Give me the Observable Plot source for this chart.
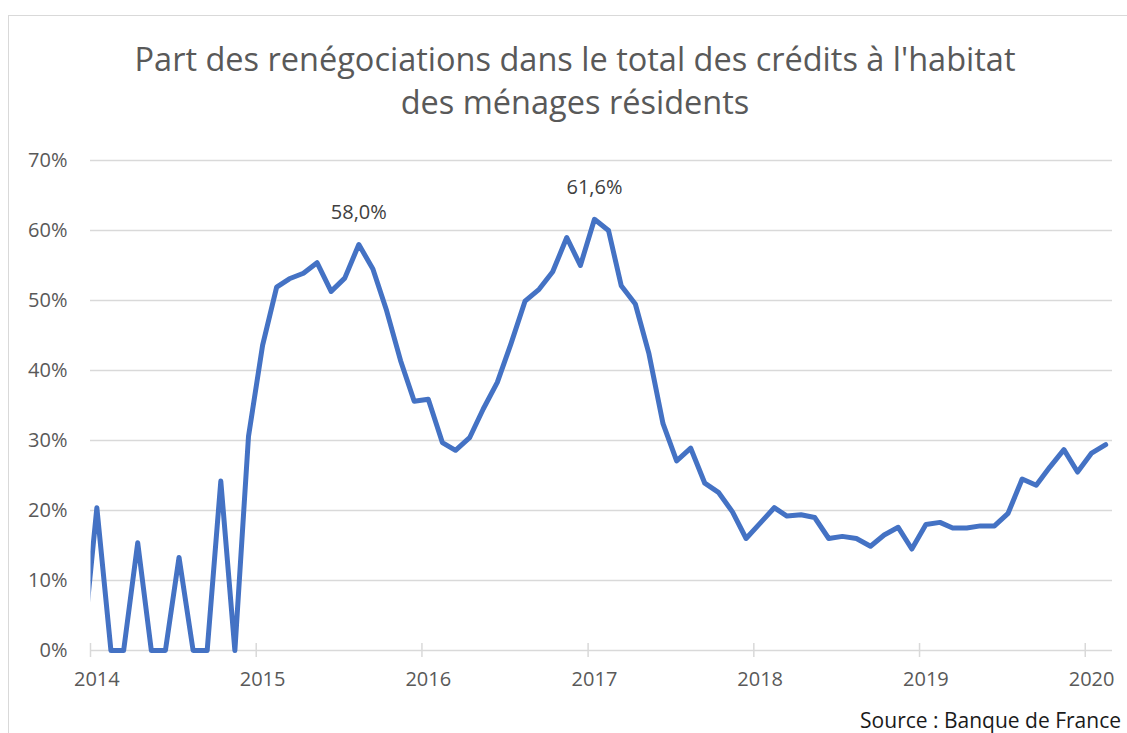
<!DOCTYPE html>
<html>
<head>
<meta charset="utf-8">
<script src="https://cdn.jsdelivr.net/npm/d3@7"></script>
<script src="https://cdn.jsdelivr.net/npm/@observablehq/plot@0.6"></script>
<style>
  html, body { margin: 0; padding: 0; background: #fff; }
  #wrap { position: relative; width: 1127px; height: 733px; overflow: hidden; font-family: "Open Sans", Lato, sans-serif; }
  .frame { position: absolute; left: 8px; top: 15px; width: 1300px; height: 900px; border: 1.5px solid #d9d9d9; box-sizing: border-box; }
  #title { position: absolute; left: 0; top: 37px; width: 1150px; text-align: center; font-size: 32.5px; line-height: 43px; color: #595959; }
  #source { position: absolute; right: 6px; top: 707px; font-size: 21px; line-height: 26px; color: #1a1a1a; }
  #chart { position: absolute; left: 0; top: 0; }
</style>
</head>
<body>
<div id="wrap">
  <div class="frame"></div>
  <div id="chart"></div>
  <div id="title">Part des renégociations dans le total des crédits à l'habitat<br>des ménages résidents</div>
  <div id="source">Source : Banque de France</div>
</div>
<script>
// Monthly share (%) of renegotiations
const values2013 = [0]; // December 2013 only
const values2014 = [20.4, 0, 0, 15.4, 0, 0, 13.3, 0, 0, 24.2, 0, 30.6];
const values2015 = [43.6, 51.9, 53.1, 53.9, 55.4, 51.3, 53.2, 58.0, 54.5, 48.6, 41.4, 35.6];
const values2016 = [35.9, 29.7, 28.6, 30.4, 34.5, 38.3, 43.8, 49.9, 51.6, 54.1, 59.0, 55.0];
const values2017 = [61.6, 60.0, 52.1, 49.5, 42.4, 32.4, 27.1, 28.9, 23.9, 22.6, 19.8, 16.0];
const values2018 = [18.2, 20.4, 19.2, 19.4, 19.0, 16.0, 16.3, 16.0, 14.9, 16.5, 17.6, 14.5];
const values2019 = [18.0, 18.3, 17.5, 17.5, 17.8, 17.8, 19.6, 24.5, 23.6, 26.2, 28.7, 25.5];
const values2020 = [28.2, 29.4]; // January, February 2020

const yearLabels = [2014, 2015, 2016, 2017, 2018, 2019, 2020];
const yTicks = [0, 10, 20, 30, 40, 50, 60, 70];
const annotatedMonths = ["2015-08", "2017-01"];

// Build table: each series starts at a given month (0-based)
const seriesByYear = [
  [2013, 11, values2013], [2014, 0, values2014], [2015, 0, values2015], [2016, 0, values2016],
  [2017, 0, values2017], [2018, 0, values2018], [2019, 0, values2019], [2020, 0, values2020]
];
const data = [];
for (const [year, start, vals] of seriesByYear) {
  vals.forEach((v, i) => {
    const m = start + i;
    data.push({ date: new Date(Date.UTC(year, m, 15)), key: `${year}-${String(m + 1).padStart(2, "0")}`, value: v });
  });
}
const annotations = data.filter(d => annotatedMonths.includes(d.key));
const yearStarts = yearLabels.map(y => new Date(Date.UTC(y, 0, 1)));
const yearMids = yearLabels.map(y => new Date(Date.UTC(y, 0, 15)));

const W = 1127, H = 733, mL = 90, mR = 15, mT = 160, mB = 83;

const plot = Plot.plot({
  width: W, height: H,
  marginLeft: mL, marginRight: mR, marginTop: mT, marginBottom: mB,
  style: { fontFamily: "'Open Sans', Lato, sans-serif", fontSize: "20px", color: "#595959", background: "none", overflow: "visible" },
  x: { type: "utc", domain: [new Date(Date.UTC(2014, 0, 1)), new Date(Date.UTC(2020, 2, 1))] },
  y: { domain: [0, 70] },
  marks: [
    Plot.gridY(yTicks, { stroke: "#d9d9d9", strokeOpacity: 1, strokeWidth: 1.5 }),
    Plot.ruleX(yearStarts, { x: d => d, y1: -1, y2: 1, stroke: "#d9d9d9", strokeWidth: 1.5 }),
    Plot.axisY(yTicks, { tickSize: 0, tickPadding: 23, tickFormat: d => d + "%", label: null, fill: "#595959" }),
    Plot.axisX(yearMids, { tickSize: 0, tickPadding: 21, tickFormat: d3.utcFormat("%Y"), label: null, fill: "#595959" }),
    Plot.lineY(data, { x: "date", y: "value", stroke: "#4472C4", strokeWidth: 5, strokeLinejoin: "round", strokeLinecap: "round" }),
    Plot.text(annotations, { x: "date", y: "value", text: d => d.value.toFixed(1).replace(".", ",") + "%", dy: -32, fill: "#404040", fontSize: 20 })
  ]
});
document.getElementById("chart").appendChild(plot);

// clip the line at the left edge of the plotting area (the Dec 2013 point lies before the axis)
const svg = d3.select(plot);
const clipId = "leftclip";
svg.append("defs").append("clipPath").attr("id", clipId)
  .append("rect").attr("x", mL).attr("y", 0).attr("width", W - mL).attr("height", H);
svg.select('g[aria-label="line"]').attr("clip-path", `url(#${clipId})`);
</script>
</body>
</html>
